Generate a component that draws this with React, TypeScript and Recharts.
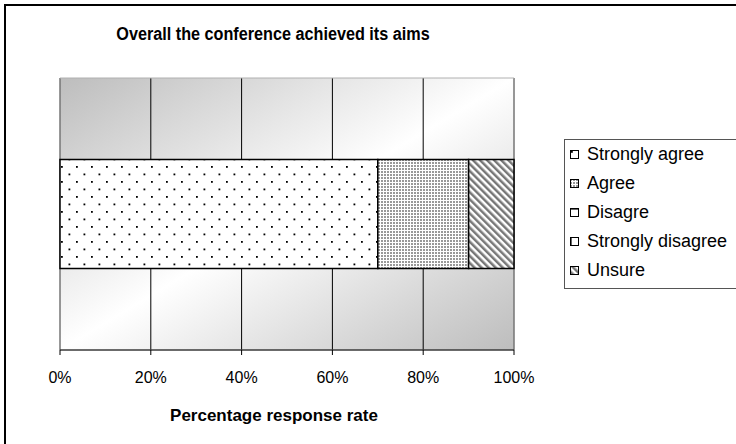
import React from "react";
import {
  Bar,
  BarChart,
  CartesianGrid,
  Legend,
  ReferenceArea,
  XAxis,
  YAxis,
} from "recharts";

const categories = ["Overall the conference achieved its aims"];
const seriesNames = ["Strongly agree", "Agree", "Disagre", "Strongly disagree", "Unsure"];
const seriesValues = [70, 20, 0, 0, 10];
const seriesPatterns = ["pSA", "pAG", "pDI", "pSD", "pUN"];
const xTicks = [0, 20, 40, 60, 80, 100];

const FONT = "'Liberation Sans', Arial, Helvetica, sans-serif";

const data = categories.map((name) => {
  const row: Record<string, string | number> = { name };
  seriesNames.forEach((s, i) => {
    row[s] = seriesValues[i];
  });
  return row;
});

function Patterns() {
  return (
    <defs>
      <linearGradient id="plotBg" x1="0" y1="0" x2="1" y2="1">
        <stop offset="0" stopColor="#bdbdbd" />
        <stop offset="0.5" stopColor="#ffffff" />
        <stop offset="1" stopColor="#bdbdbd" />
      </linearGradient>
      <pattern id="pSA" width="15" height="15" patternUnits="userSpaceOnUse">
        <rect width="15" height="15" fill="#fff" />
        <rect x="1" y="1" width="1.8" height="1.8" fill="#000" />
        <rect x="8.5" y="8.5" width="1.8" height="1.8" fill="#000" />
      </pattern>
      <pattern id="pAG" width="3" height="3" patternUnits="userSpaceOnUse">
        <rect width="3" height="3" fill="#fff" />
        <rect width="2" height="2" fill="#999" />
      </pattern>
      <pattern id="pDI" width="10" height="10" patternUnits="userSpaceOnUse">
        <rect width="10" height="10" fill="#fff" />
        <rect width="10" height="2" fill="#666" />
      </pattern>
      <pattern id="pSD" width="10" height="10" patternUnits="userSpaceOnUse">
        <rect width="10" height="10" fill="#fff" />
        <rect width="2" height="10" fill="#666" />
      </pattern>
      <pattern
        id="pUN"
        width="5"
        height="5"
        patternUnits="userSpaceOnUse"
        patternTransform="rotate(-45)"
      >
        <rect width="5" height="5" fill="#fff" />
        <rect width="2.5" height="5" fill="#777" />
      </pattern>
    </defs>
  );
}

function LegendBox() {
  return (
    <div
      style={{
        border: "1px solid #555",
        background: "#fff",
        width: 200,
        height: 150,
        boxSizing: "border-box",
        fontFamily: FONT,
        fontSize: 18,
        color: "#000",
      }}
    >
      {seriesNames.map((s, i) => (
        <div
          key={s}
          style={{ display: "flex", alignItems: "center", height: 29, paddingLeft: 5 }}
        >
          <svg width={10} height={10} style={{ marginRight: 7 }}>
            <rect
              x={0.5}
              y={0.5}
              width={8}
              height={8}
              fill={`url(#${seriesPatterns[i]})`}
              stroke="#000"
            />
          </svg>
          <span style={{ whiteSpace: "nowrap" }}>{s}</span>
        </div>
      ))}
    </div>
  );
}

export default function App() {
  return (
    <div
      style={{
        position: "absolute",
        left: 0,
        top: 0,
        width: 736,
        height: 444,
        overflow: "hidden",
        background: "#fff",
      }}
    >
      <div
        style={{
          position: "absolute",
          left: 4,
          top: 4,
          width: 900,
          height: 600,
          border: "2px solid #000",
        }}
      />
      <div
        style={{
          position: "absolute",
          left: 0,
          top: 24,
          width: 546,
          textAlign: "center",
          fontFamily: FONT,
          fontWeight: "bold",
          fontSize: 18,
          transform: "scaleX(0.9)",
          transformOrigin: "273px 0",
        }}
      >
        Overall the conference achieved its aims
      </div>
      <div style={{ position: "absolute", left: 0, top: 0 }}>
        <BarChart
          width={736}
          height={444}
          data={data}
          layout="vertical"
          barCategoryGap="30%"
          margin={{ top: 78, right: 222, bottom: 0, left: 60 }}
        >
          <Patterns />
          {/* gradient plot background with vertical gridlines behind the bar */}
          <CartesianGrid
            horizontal={false}
            stroke="#000"
            fill="url(#plotBg)"
            fillOpacity={1}
          />
          <ReferenceArea x1={0} x2={100} fill="none" stroke="#b0b0b0" />
          <XAxis
            type="number"
            domain={[0, 100]}
            ticks={xTicks}
            tickFormatter={(v) => `${v}%`}
            stroke="#000"
            tick={{ fill: "#000", fontSize: 16, fontFamily: FONT }}
            tickSize={5}
            tickMargin={17}
            height={94}
            label={{
              value: "Percentage response rate",
              position: "insideBottom",
              offset: 23,
              dx: -13,
              style: { fontFamily: FONT, fontWeight: "bold", fontSize: 17, fill: "#000" },
            }}
          />
          <YAxis type="category" dataKey="name" hide />
          {seriesNames.map((s, i) => (
            <Bar
              key={s}
              dataKey={s}
              stackId="a"
              fill={`url(#${seriesPatterns[i]})`}
              stroke="#000"
              strokeWidth={1.5}
              isAnimationActive={false}
            />
          ))}
          <Legend
            layout="vertical"
            align="center"
            verticalAlign="middle"
            wrapperStyle={{ left: 564, top: 139, width: 200 }}
            content={() => <LegendBox />}
          />
        </BarChart>
      </div>
    </div>
  );
}
